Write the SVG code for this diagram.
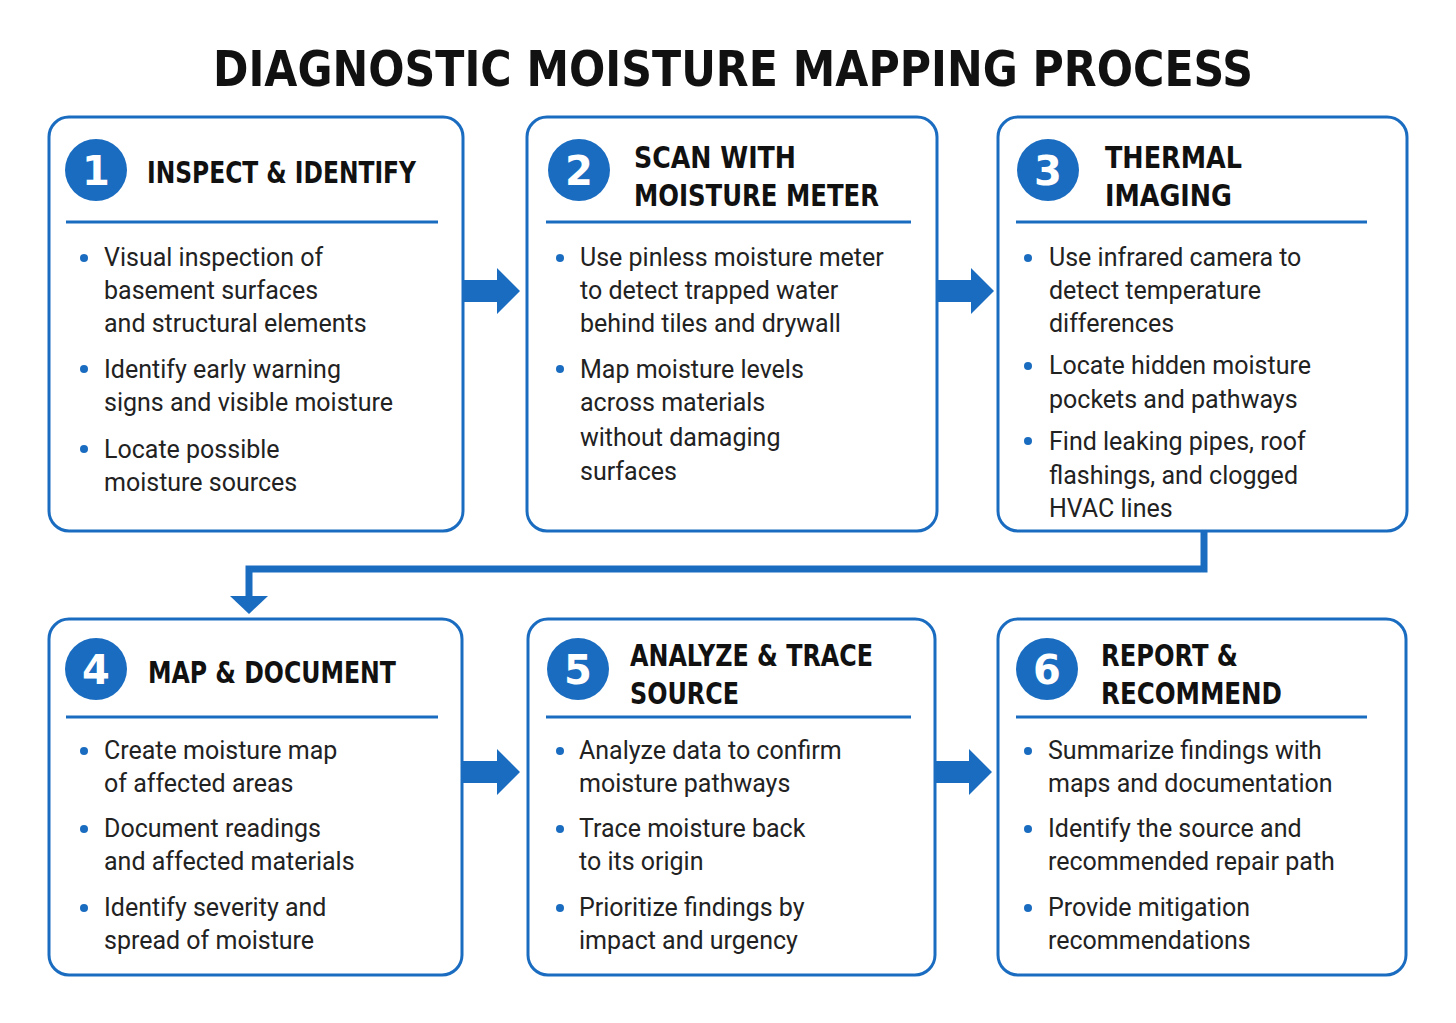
<svg xmlns="http://www.w3.org/2000/svg" width="1456" height="1023" viewBox="0 0 1456 1023">
<style>
.box{fill:#fff;stroke:#1a6cc0;stroke-width:3}
.div{stroke:#1a6cc0;stroke-width:3}
.num{fill:#fff;font-family:"DejaVu Sans";font-weight:bold;font-size:40px;text-anchor:middle}
.h{fill:#111;font-family:"DejaVu Sans Condensed";font-weight:bold;font-size:31px}
.t{fill:#222;font-family:Roboto,"Liberation Sans",sans-serif;font-size:25px}
.arr{fill:#1a6cc0}
</style>
<rect width="1456" height="1023" fill="#fff"/>
<text x="733" y="86" text-anchor="middle" font-family="DejaVu Sans Condensed" font-weight="bold" font-size="50" fill="#111" textLength="1040" lengthAdjust="spacingAndGlyphs">DIAGNOSTIC MOISTURE MAPPING PROCESS</text>
<g id="connectors">
<polygon class="arr" points="463,280 497,280 497,268 520,291 497,314 497,302 463,302"/>
<polygon class="arr" points="937,280 971,280 971,268 994,291 971,314 971,302 937,302"/>
<polygon class="arr" points="463,761 497,761 497,749 520,772 497,795 497,783 463,783"/>
<polygon class="arr" points="935,761 969,761 969,749 992,772 969,795 969,783 935,783"/>
<polyline points="1204,531 1204,569 249,569 249,598" fill="none" stroke="#1a6cc0" stroke-width="7"/>
<polygon class="arr" points="230,596 268,596 249,614"/>
</g>
<g id="n1">
<rect class="box" x="49" y="117" width="414" height="414" rx="20"/>
<circle cx="96" cy="170" r="31" fill="#1a6cc0"/><text class="num" x="96" y="185">1</text>
<text class="h" x="147" y="183" textLength="269" lengthAdjust="spacingAndGlyphs">INSPECT &amp; IDENTIFY</text>
<line class="div" x1="66" y1="222" x2="438" y2="222"/>
<g class="t"><text x="104" y="266">Visual inspection of</text><text x="104" y="299">basement surfaces</text><text x="104" y="332">and structural elements</text><text x="104" y="378">Identify early warning</text><text x="104" y="411">signs and visible moisture</text><text x="104" y="458">Locate possible</text><text x="104" y="491">moisture sources</text></g>
<g class="arr"><circle cx="84" cy="258" r="4"/><circle cx="84" cy="369" r="4"/><circle cx="84" cy="449" r="4"/></g>
</g>
<g id="n2">
<rect class="box" x="527" y="117" width="410" height="414" rx="20"/>
<circle cx="579" cy="170" r="31" fill="#1a6cc0"/><text class="num" x="579" y="185">2</text>
<text class="h" x="634" y="168" textLength="162" lengthAdjust="spacingAndGlyphs">SCAN WITH</text>
<text class="h" x="634" y="206" textLength="245" lengthAdjust="spacingAndGlyphs">MOISTURE METER</text>
<line class="div" x1="546" y1="222" x2="911" y2="222"/>
<g class="t"><text x="580" y="266">Use pinless moisture meter</text><text x="580" y="299">to detect trapped water</text><text x="580" y="332">behind tiles and drywall</text><text x="580" y="378">Map moisture levels</text><text x="580" y="411">across materials</text><text x="580" y="446">without damaging</text><text x="580" y="480">surfaces</text></g>
<g class="arr"><circle cx="560" cy="258" r="4"/><circle cx="560" cy="369" r="4"/></g>
</g>
<g id="n3">
<rect class="box" x="998" y="117" width="409" height="414" rx="20"/>
<circle cx="1048" cy="170" r="31" fill="#1a6cc0"/><text class="num" x="1048" y="185">3</text>
<text class="h" x="1105" y="168" textLength="137" lengthAdjust="spacingAndGlyphs">THERMAL</text>
<text class="h" x="1105" y="206" textLength="127" lengthAdjust="spacingAndGlyphs">IMAGING</text>
<line class="div" x1="1016" y1="222" x2="1367" y2="222"/>
<g class="t"><text x="1049" y="266">Use infrared camera to</text><text x="1049" y="299">detect temperature</text><text x="1049" y="332">differences</text><text x="1049" y="374">Locate hidden moisture</text><text x="1049" y="408">pockets and pathways</text><text x="1049" y="450">Find leaking pipes, roof</text><text x="1049" y="484">flashings, and clogged</text><text x="1049" y="517">HVAC lines</text></g>
<g class="arr"><circle cx="1028" cy="258" r="4"/><circle cx="1028" cy="366" r="4"/><circle cx="1028" cy="441" r="4"/></g>
</g>
<g id="n4">
<rect class="box" x="49" y="619" width="413" height="356" rx="20"/>
<circle cx="96" cy="669" r="31" fill="#1a6cc0"/><text class="num" x="96" y="684">4</text>
<text class="h" x="148" y="683" textLength="248" lengthAdjust="spacingAndGlyphs">MAP &amp; DOCUMENT</text>
<line class="div" x1="66" y1="717" x2="438" y2="717"/>
<g class="t"><text x="104" y="759">Create moisture map</text><text x="104" y="792">of affected areas</text><text x="104" y="837">Document readings</text><text x="104" y="870">and affected materials</text><text x="104" y="916">Identify severity and</text><text x="104" y="949">spread of moisture</text></g>
<g class="arr"><circle cx="84" cy="751" r="4"/><circle cx="84" cy="829" r="4"/><circle cx="84" cy="908" r="4"/></g>
</g>
<g id="n5">
<rect class="box" x="528" y="619" width="407" height="356" rx="20"/>
<circle cx="578" cy="669" r="31" fill="#1a6cc0"/><text class="num" x="578" y="684">5</text>
<text class="h" x="630" y="666" textLength="243" lengthAdjust="spacingAndGlyphs">ANALYZE &amp; TRACE</text>
<text class="h" x="630" y="704" textLength="109" lengthAdjust="spacingAndGlyphs">SOURCE</text>
<line class="div" x1="546" y1="717" x2="911" y2="717"/>
<g class="t"><text x="579" y="759">Analyze data to confirm</text><text x="579" y="792">moisture pathways</text><text x="579" y="837">Trace moisture back</text><text x="579" y="870">to its origin</text><text x="579" y="916">Prioritize findings by</text><text x="579" y="949">impact and urgency</text></g>
<g class="arr"><circle cx="560" cy="751" r="4"/><circle cx="560" cy="829" r="4"/><circle cx="560" cy="908" r="4"/></g>
</g>
<g id="n6">
<rect class="box" x="998" y="619" width="408" height="356" rx="20"/>
<circle cx="1047" cy="669" r="31" fill="#1a6cc0"/><text class="num" x="1047" y="684">6</text>
<text class="h" x="1101" y="666" textLength="137" lengthAdjust="spacingAndGlyphs">REPORT &amp;</text>
<text class="h" x="1101" y="704" textLength="181" lengthAdjust="spacingAndGlyphs">RECOMMEND</text>
<line class="div" x1="1016" y1="717" x2="1367" y2="717"/>
<g class="t"><text x="1048" y="759">Summarize findings with</text><text x="1048" y="792">maps and documentation</text><text x="1048" y="837">Identify the source and</text><text x="1048" y="870">recommended repair path</text><text x="1048" y="916">Provide mitigation</text><text x="1048" y="949">recommendations</text></g>
<g class="arr"><circle cx="1028" cy="751" r="4"/><circle cx="1028" cy="829" r="4"/><circle cx="1028" cy="908" r="4"/></g>
</g>
</svg>
